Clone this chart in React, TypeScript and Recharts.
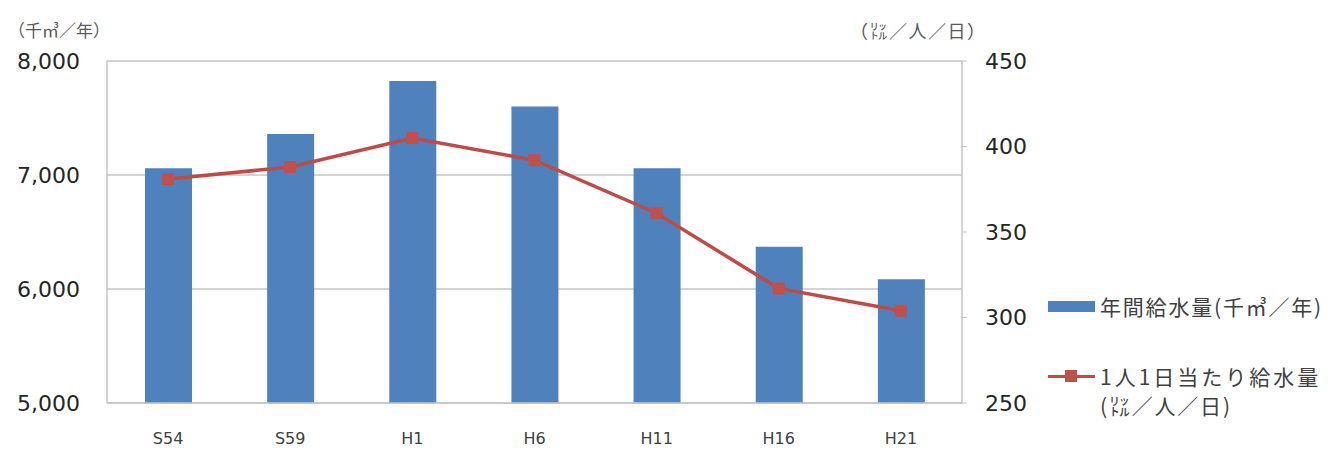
import React from "react";
import { Bar, CartesianGrid, ComposedChart, Line, XAxis, YAxis } from "recharts";

const years = ["S54", "S59", "H1", "H6", "H11", "H16", "H21"];
const annualSupply = [7060, 7360, 7825, 7600, 7060, 6370, 6085];
const perCapita = [381, 388, 405, 392, 361, 317, 304];

const leftTicks = [5000, 6000, 7000, 8000];
const rightTicks = [250, 300, 350, 400, 450];

const barName = "年間給水量(千㎥／年)";
const lineName = "1人1日当たり給水量";
const lineUnit = "(㍑／人／日)";

const BLUE = "#4F81BD";
const RED = "#C0504D";
const LINE_RED = "#BE4B48";
const GRID = "#C4C4C4";
const NUM_FONT = "'DejaVu Sans', sans-serif";
const JP_FONT = "'Noto Sans CJK JP', sans-serif";

const data = years.map((year, i) => ({
  year,
  supply: annualSupply[i],
  perCapita: perCapita[i],
}));

function SquareDot(props: any) {
  const { cx, cy } = props;
  if (cx == null || cy == null) return null;
  return <rect x={cx - 6} y={cy - 6} width={12} height={12} fill={RED} />;
}

const legendText: React.CSSProperties = {
  position: "absolute",
  left: 1100,
  fontSize: 21,
  letterSpacing: 1.8,
  color: "#404040",
  whiteSpace: "nowrap",
};

export default function App() {
  return (
    <div
      style={{
        position: "absolute",
        left: 0,
        top: 0,
        width: 1334,
        height: 449,
        background: "#fff",
        fontFamily: JP_FONT,
      }}
    >
      <div style={{ position: "absolute", left: 8, top: 17, fontSize: 17, color: "#595959" }}>
        （千㎥／年）
      </div>
      <div
        style={{ position: "absolute", left: 850, top: 17, fontSize: 18, letterSpacing: 1.5, color: "#595959" }}
      >
        （㍑／人／日）
      </div>

      <ComposedChart
        width={1334}
        height={449}
        data={data}
        margin={{ top: 61, right: 312, bottom: 16, left: 0 }}
      >
        <CartesianGrid yAxisId="left" vertical={false} stroke={GRID} strokeWidth={1.5} />
        <XAxis
          dataKey="year"
          height={30}
          tickLine={false}
          tickSize={0}
          tickMargin={30}
          axisLine={{ stroke: GRID, strokeWidth: 1.5 }}
          tick={{ fill: "#404040", fontSize: 16, fontFamily: NUM_FONT }}
        />
        <YAxis
          yAxisId="left"
          orientation="left"
          width={107}
          domain={[5000, 8000]}
          ticks={leftTicks}
          tickFormatter={(v: number) => v.toLocaleString("en-US")}
          tickLine={false}
          tickSize={0}
          tickMargin={27}
          axisLine={{ stroke: GRID, strokeWidth: 1.5 }}
          tick={{ fill: "#262626", fontSize: 22, fontFamily: NUM_FONT }}
        />
        <YAxis
          yAxisId="right"
          orientation="right"
          width={60}
          domain={[250, 450]}
          ticks={rightTicks}
          tickSize={5}
          tickMargin={18}
          tickLine={{ stroke: GRID }}
          axisLine={{ stroke: GRID, strokeWidth: 1.5 }}
          tick={{ fill: "#262626", fontSize: 22, fontFamily: NUM_FONT, textAnchor: "start" }}
        />
        <Bar
          yAxisId="left"
          dataKey="supply"
          name={barName}
          fill={BLUE}
          barSize={47}
          isAnimationActive={false}
        />
        <Line
          yAxisId="right"
          dataKey="perCapita"
          name={lineName}
          type="linear"
          stroke={LINE_RED}
          strokeWidth={3.5}
          dot={<SquareDot />}
          activeDot={false}
          isAnimationActive={false}
        />
      </ComposedChart>

      {/* legend */}
      <div style={{ position: "absolute", left: 1048, top: 301, width: 47, height: 11, background: BLUE }} />
      <div style={{ ...legendText, top: 291 }}>{barName}</div>
      <div style={{ position: "absolute", left: 1048, top: 375, width: 47, height: 3, background: LINE_RED }} />
      <div style={{ position: "absolute", left: 1065, top: 370, width: 12, height: 12, background: RED }} />
      <div style={{ ...legendText, top: 361, letterSpacing: 3 }}>{lineName}</div>
      <div style={{ ...legendText, top: 390 }}>{lineUnit}</div>
    </div>
  );
}
